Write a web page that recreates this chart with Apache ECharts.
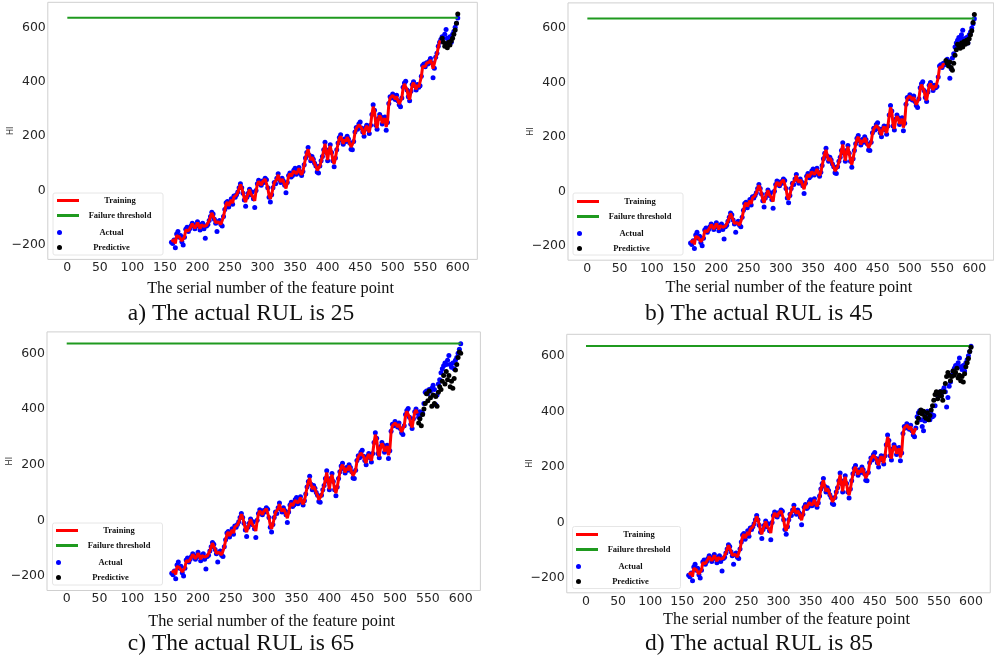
<!DOCTYPE html>
<html>
<head>
<meta charset="utf-8">
<script src="https://cdn.jsdelivr.net/npm/echarts@6/dist/echarts.min.js"></script>
<style>
  html, body { margin: 0; padding: 0; background: #ffffff; }
  #chart { width: 994px; height: 660px; }
</style>
</head>
<body>
<div id="chart"></div>
<script>
// Health indicator (HI) degradation track, one value every 2 feature points from 160 to 600
const serialStart = 160;
const serialStep = 2;

const actualHI = [
  -190, -195, -182, -210, -160, -150, -172, -165, -188, -200,
  -172, -142, -135, -150, -140, -130, -120, -126, -140, -130,
  -115, -130, -145, -125, -120, -140, -175, -130, -125, -110,
  -95, -80, -86, -105, -120, -150, -115, -110, -125, -130,
  -95, -70, -45, -40, -60, -45, -30, -50, -20, -25,
  -15, -5, 10, 25, 10, -10, -35, -58, -25, -10,
  5, -15, -5, -30, -62, 0, 25, 38, 30, 20,
  35, 30, 45, 40, 10, -25, -42, -15, 10, 30,
  25, 45, 62, 40, 30, 45, 35, 20, -8, 30,
  55, 65, 50, 55, 75, 82, 60, 70, 85, 65,
  55, 70, 95, 120, 140, 158, 130, 110, 125, 115,
  100, 90, 68, 65, 90, 110, 125, 150, 178, 140,
  110, 150, 168, 140, 110, 88, 120, 150, 175, 195,
  205, 185, 170, 190, 180, 200, 190, 175, 152, 150,
  180, 215, 232, 225, 245, 252, 230, 215, 200, 230,
  240, 225, 210, 240, 280, 315, 295, 240, 225, 265,
  280, 270, 245, 260, 270, 222, 250, 320, 345, 340,
  355, 345, 335, 350, 330, 315, 308, 340, 380, 395,
  402, 370, 345, 330, 365, 390, 400, 385, 370, 390,
  380, 385, 420, 460, 465, 455, 470, 465, 475, 485,
  470, 415, 450, 490, 505, 530, 545, 555, 565, 560,
  575, 592, 560, 550, 565, 545, 575, 585, 600, 615,
  634
];

// Fitted HI over the training span (same serial numbers, 160 .. 574)
const trainingHI = [
  -188, -192, -180, -195, -165, -158, -170, -168, -185, -192,
  -170, -145, -138, -148, -140, -132, -122, -128, -138, -130,
  -118, -128, -140, -126, -120, -132, -138, -128, -122, -110,
  -96, -82, -88, -104, -118, -122, -115, -112, -124, -126,
  -96, -72, -50, -42, -56, -46, -34, -46, -24, -26,
  -16, -6, 8, 22, 10, -8, -30, -42, -24, -10,
  4, -12, -6, -26, -38, -2, 22, 34, 30, 20,
  32, 30, 42, 38, 10, -18, -30, -14, 8, 28,
  26, 42, 58, 40, 32, 42, 34, 20, 8, 28,
  52, 62, 52, 56, 72, 78, 62, 70, 82, 66,
  58, 70, 94, 118, 138, 152, 130, 112, 122, 114,
  100, 90, 74, 72, 90, 108, 124, 148, 172, 140,
  112, 146, 164, 140, 112, 98, 120, 148, 172, 192,
  200, 186, 172, 188, 180, 196, 188, 172, 160, 156,
  180, 212, 228, 226, 242, 248, 230, 216, 206, 228,
  238, 226, 214, 240, 278, 308, 292, 244, 230, 262,
  276, 268, 248, 258, 266, 234, 252, 318, 340, 338,
  350, 344, 336, 346, 330, 318, 312, 340, 376, 392,
  396, 370, 346, 334, 362, 388, 396, 384, 372, 388,
  380, 386, 418, 456, 462, 456, 468, 464, 472, 480,
  468, 448, 452, 486, 502, 526, 548, 550
];

// Predicted HI after the training cut-off, every 2 feature points up to 600
const predictiveRUL25 = [560, 545, 530, 540, 525, 545, 535, 550, 560, 575, 590, 615, 649];
const predictiveRUL45 = [
  480, 470, 460, 475, 455, 445, 470, 500, 520, 540,
  535, 525, 545, 530, 550, 540, 555, 545, 560, 575,
  590, 620, 649
];
const predictiveRUL65 = [
  350, 365, 340, 380, 400, 420, 455, 430, 465, 440,
  410, 450, 420, 445, 410, 460, 480, 470, 500, 520,
  490, 535, 505, 520, 480, 500, 475, 510, 540, 560,
  585, 605, 600
];
const predictiveRUL85 = [
  360, 375, 395, 405, 390, 400, 380, 375, 395, 370,
  385, 405, 420, 440, 460, 470, 445, 460, 470, 455,
  440, 470, 500, 525, 540, 530, 510, 525, 545, 530,
  540, 555, 520, 530, 510, 525, 505, 535, 560, 575,
  590, 615, 630
];

const rulValues = [25, 45, 65, 85];
const panelLetters = ['a', 'b', 'c', 'd'];
const predictiveSets = [predictiveRUL25, predictiveRUL45, predictiveRUL65, predictiveRUL85];
const endSerial = 600;

const failureThreshold = 635;
const thresholdSpan = [0, 600];

const xTicks = [0, 50, 100, 150, 200, 250, 300, 350, 400, 450, 500, 550, 600];
const yTicks = [-200, 0, 200, 400, 600];

const lineLegendNames = ['Training', 'Failure threshold'];
const markerLegendNames = ['Actual', 'Predictive'];

// Panel placement on the page
const layout = [
  { grid: { left: 47.8, top: 2.3, width: 429.5, height: 257.1 }, yMin: -253, yMax: 692,
    xNameGap: 21, legend: { x: 53, y: 192 }, box: [53, 193, 110, 62], caption: [241, 314] },
  { grid: { left: 568, top: 2.9, width: 425.7, height: 257.3 }, yMin: -253, yMax: 692,
    xNameGap: 20, legend: { x: 573, y: 193 }, box: [573, 193, 110, 62], caption: [759, 314] },
  { grid: { left: 47, top: 331.9, width: 433.4, height: 258.6 }, yMin: -252, yMax: 677,
    xNameGap: 23, legend: { x: 52, y: 522 }, box: [52.5, 523, 110, 62], caption: [241, 644] },
  { grid: { left: 566.75, top: 334.3, width: 423.5, height: 258.5 }, yMin: -253, yMax: 677,
    xNameGap: 19, legend: { x: 572, y: 526 }, box: [572.5, 526.5, 108, 62], caption: [759, 644] }
];

function toPoints(values, start) {
  return values.map((v, i) => [start + i * serialStep, v]);
}

const actualPoints = toPoints(actualHI, serialStart);
const trainingPoints = toPoints(trainingHI, serialStart);

const grids = [], xAxes = [], yAxes = [], series = [], legends = [], graphics = [];

const tickFont = { fontFamily: 'DejaVu Sans', fontSize: 12.5, color: '#262626' };
const legendText = {
  fontFamily: 'Liberation Serif', fontWeight: 'bold', fontSize: 8.5, color: '#111',
  rich: { c: { width: 72, align: 'center', lineHeight: 10, fontFamily: 'Liberation Serif',
               fontWeight: 'bold', fontSize: 8.5, color: '#111' } }
};

rulValues.forEach((rul, i) => {
  const L = layout[i];
  const lastTrain = endSerial - rul;

  grids.push(Object.assign({ show: true, borderColor: '#cfcfcf', borderWidth: 1,
    backgroundColor: '#ffffff', containLabel: false }, L.grid));

  xAxes.push({
    gridIndex: i, type: 'value', min: -30, max: 630,
    axisLine: { show: false }, axisTick: { show: false }, splitLine: { show: false },
    axisLabel: Object.assign({ customValues: xTicks, margin: 2 }, tickFont),
    name: 'The serial number of the feature point', nameLocation: 'middle', nameGap: L.xNameGap,
    nameMoveOverlap: false,
    nameTextStyle: { fontFamily: 'Liberation Serif', fontSize: 16.3, color: '#111', padding: [0, 0, 0, 16] }
  });

  yAxes.push({
    gridIndex: i, type: 'value', min: L.yMin, max: L.yMax,
    axisLine: { show: false }, axisTick: { show: false }, splitLine: { show: false },
    axisLabel: Object.assign({ customValues: yTicks, margin: 2,
      formatter: v => String(v).replace('-', '\u2212') }, tickFont),
    name: 'HI', nameLocation: 'middle', nameRotate: 90, nameGap: 33, nameMoveOverlap: false,
    nameTextStyle: { fontFamily: 'DejaVu Sans', fontSize: 8, color: '#333' }
  });

  series.push({
    name: 'Actual', type: 'scatter', xAxisIndex: i, yAxisIndex: i,
    data: actualPoints, symbolSize: 5, itemStyle: { color: '#0000ff', opacity: 1 }, z: 2
  });
  series.push({
    name: 'Training', type: 'line', xAxisIndex: i, yAxisIndex: i,
    data: trainingPoints.filter(p => p[0] <= lastTrain), symbol: 'none',
    lineStyle: { color: '#ff0000', width: 3 }, itemStyle: { color: '#ff0000' }, z: 3
  });
  series.push({
    name: 'Predictive', type: 'scatter', xAxisIndex: i, yAxisIndex: i,
    data: toPoints(predictiveSets[i], lastTrain + 1), symbolSize: 5,
    itemStyle: { color: '#000000', opacity: 1 }, z: 4
  });
  series.push({
    name: 'Failure threshold', type: 'line', xAxisIndex: i, yAxisIndex: i,
    data: thresholdSpan.map(x => [x, failureThreshold]), symbol: 'none',
    lineStyle: { color: '#1f9a1f', width: 2 }, itemStyle: { color: '#1f9a1f' }, z: 3
  });

  // legend frame
  graphics.push({
    type: 'rect', z: 8,
    shape: { x: L.box[0], y: L.box[1], width: L.box[2], height: L.box[3], r: 2 },
    style: { fill: '#ffffff', stroke: '#e6e6e6', lineWidth: 1 }
  });
  // line entries
  legends.push({
    data: lineLegendNames.map(n => ({ name: n, icon: 'rect' })),
    orient: 'vertical', left: L.legend.x, top: L.legend.y,
    padding: 4, itemWidth: 22, itemHeight: 3, itemGap: 6, selectedMode: false, z: 10,
    formatter: n => '{c|' + n + '}', textStyle: legendText
  });
  // marker entries
  legends.push({
    data: markerLegendNames.map(n => ({ name: n, icon: 'circle' })),
    orient: 'vertical', left: L.legend.x, top: L.legend.y + 32,
    padding: 4, itemWidth: 22, itemHeight: 5, itemGap: 6, selectedMode: false, z: 10,
    formatter: n => '{c|' + n + '}', textStyle: legendText
  });

  graphics.push({
    type: 'text', z: 10,
    style: {
      x: L.caption[0], y: L.caption[1],
      text: panelLetters[i] + ') The actual RUL is ' + rul,
      align: 'center', verticalAlign: 'middle',
      fontFamily: 'Liberation Serif', fontSize: 23.5, fill: '#111'
    }
  });
});

const chart = echarts.init(document.getElementById('chart'), null, { renderer: 'canvas' });
chart.setOption({
  animation: false,
  backgroundColor: '#ffffff',
  grid: grids,
  xAxis: xAxes,
  yAxis: yAxes,
  legend: legends,
  series: series,
  graphic: graphics
});
</script>
</body>
</html>
